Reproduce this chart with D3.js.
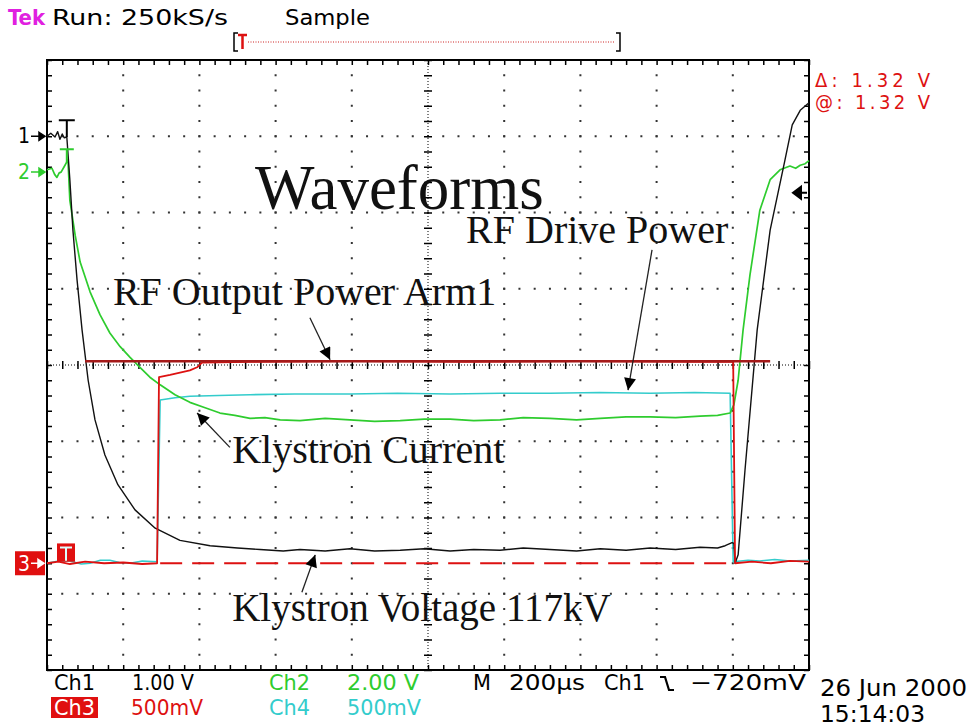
<!DOCTYPE html>
<html>
<head>
<meta charset="utf-8">
<script src="https://cdn.jsdelivr.net/npm/d3@7"></script>
<style>
body { margin: 0; background: #fff; }
svg { display: block; }
</style>
</head>
<body>
<div id="scope"></div>
<script>
var W = 971, H = 728;
var X_DIVS = 10, Y_DIVS = 8;
var US_PER_DIV = 200;

// time in µs from the left edge of the screen, level in screen divisions from the centre
var ch1Trace = [[0,3.00],[10,3.04],[21,2.99],[28,3.06],[34,2.96],[40,3.03],[45,2.98],[52,2.99],[60,2.43],[68,1.77],[79,1.11],[92,0.46],[108,-0.20],[126,-0.72],[152,-1.18],[186,-1.57],[231,-1.90],[284,-2.14],[349,-2.30],[428,-2.37],[500,-2.40],[559,-2.42],[620,-2.44],[664,-2.42],[730,-2.44],[795,-2.41],[860,-2.44],[927,-2.43],[990,-2.41],[1058,-2.44],[1120,-2.42],[1189,-2.43],[1250,-2.40],[1320,-2.42],[1390,-2.44],[1452,-2.41],[1520,-2.43],[1583,-2.40],[1650,-2.42],[1714,-2.39],[1760,-2.40],[1780,-2.37],[1798,-2.33],[1803,-2.34],[1806,-2.60],[1814,-2.49],[1832,-1.38],[1864,0.46],[1898,1.77],[1937,2.69],[1956,3.15],[1977,3.34],[2000,3.44]];
var ch2Trace = [[0,2.56],[13,2.58],[20,2.50],[26,2.46],[32,2.52],[37,2.53],[45,2.60],[55,2.69],[60,2.16],[74,1.70],[87,1.35],[113,0.96],[139,0.66],[165,0.42],[192,0.24],[218,0.10],[244,-0.03],[270,-0.16],[297,-0.26],[336,-0.39],[375,-0.49],[415,-0.56],[454,-0.63],[493,-0.66],[533,-0.70],[572,-0.69],[612,-0.72],[664,-0.73],[730,-0.70],[795,-0.72],[860,-0.74],[927,-0.73],[990,-0.71],[1058,-0.71],[1120,-0.73],[1189,-0.72],[1250,-0.69],[1320,-0.70],[1390,-0.72],[1452,-0.70],[1520,-0.68],[1583,-0.68],[1650,-0.69],[1714,-0.67],[1760,-0.66],[1793,-0.63],[1803,-0.52],[1814,-0.20],[1827,0.46],[1845,1.18],[1871,2.03],[1898,2.43],[1924,2.56],[1950,2.61],[1965,2.58],[1977,2.62],[1990,2.64],[2000,2.68]];
var ch3Trace = [[0,-2.60],[30,-2.58],[60,-2.61],[100,-2.58],[150,-2.60],[200,-2.59],[250,-2.61],[289,-2.60],[294,-0.16],[323,-0.13],[349,-0.10],[375,-0.07],[394,-0.03],[407,0.03],[533,0.04],[800,0.05],[1100,0.04],[1400,0.05],[1700,0.04],[1801,0.04],[1806,-2.60],[1850,-2.58],[1900,-2.60],[1950,-2.57],[2000,-2.58]];
var ch4Trace = [[0,-2.60],[30,-2.57],[60,-2.57],[90,-2.61],[113,-2.60],[140,-2.56],[165,-2.56],[190,-2.59],[218,-2.60],[250,-2.57],[289,-2.58],[297,-0.46],[336,-0.43],[375,-0.41],[450,-0.40],[533,-0.39],[650,-0.38],[795,-0.38],[920,-0.37],[1058,-0.38],[1190,-0.37],[1320,-0.37],[1450,-0.36],[1583,-0.37],[1700,-0.36],[1793,-0.37],[1801,-2.58],[1840,-2.56],[1871,-2.57],[1910,-2.55],[1950,-2.57],[2000,-2.56]];

var channelMarkers = [
	{ label: "1", level: 3.00, color: "#000" },
	{ label: "2", level: 2.53, color: "#2ecc2e" }
];

// hand-drawn annotations, same units as the traces
var annotationTexts = [
	{ text: "Waveforms", t: 546, v: 2.05, size: 63 },
	{ text: "RF Drive Power", t: 1100, v: 1.60, size: 40 },
	{ text: "RF Output Power Arm1", t: 173, v: 0.79, size: 40 },
	{ text: "Klystron Current", t: 486, v: -1.29, size: 40 },
	{ text: "Klystron Voltage 117kV", t: 486, v: -3.36, size: 39 }
];
var annotationArrows = [
	[[690, 0.62], [743, 0.07]],
	[[1588, 1.51], [1525, -0.33]],
	[[480, -1.08], [394, -0.63]],
	[[669, -2.98], [704, -2.49]]
];
var outputRefLine = [[100, 0.05], [1898, 0.05]];
var ch3ZeroLine = [[297, -2.60], [1806, -2.60]];

var headerTexts = [
	{ text: "Tek", x: 8, w: 37, color: "#e020e0", bold: true },
	{ text: "Run: 250kS/s", x: 52, w: 176, color: "#000", bold: false },
	{ text: "Sample", x: 285, w: 85, color: "#000", bold: false }
];
var readoutTexts = ["\u0394: 1.32 V", "@: 1.32 V"];
var bottomRow1 = [
	{ text: "Ch1", x: 54, w: 41, color: "#000" },
	{ text: "1.00 V", x: 132, w: 62, color: "#000" },
	{ text: "Ch2", x: 269, w: 41, color: "#2ecc2e" },
	{ text: "2.00 V", x: 347, w: 72, color: "#2ecc2e" },
	{ text: "M", x: 473, w: 18, color: "#000" },
	{ text: "200\u00b5s", x: 509, w: 76, color: "#000" },
	{ text: "Ch1", x: 604, w: 41, color: "#000" },
	{ text: "\u2212720mV", x: 690, w: 116, color: "#000" }
];
var bottomRow2 = [
	{ text: "500mV", x: 131, w: 72, color: "#dd1111" },
	{ text: "Ch4", x: 269, w: 41, color: "#33cccc" },
	{ text: "500mV", x: 347, w: 74, color: "#33cccc" }
];

var boxLeft = 47, boxRight = 809, boxTop = 60, boxBottom = 670;

var x = d3.scaleLinear().domain([0, X_DIVS * US_PER_DIV]).range([boxLeft, boxRight]);
var y = d3.scaleLinear().domain([-Y_DIVS / 2, Y_DIVS / 2]).range([boxBottom, boxTop]);

var svg = d3.select("#scope").append("svg")
	.attr("width", W)
	.attr("height", H);

var defs = svg.append("defs");
defs.append("marker")
	.attr("id", "head")
	.attr("viewBox", "0 0 10 10")
	.attr("refX", 10).attr("refY", 5)
	.attr("markerWidth", 16).attr("markerHeight", 12)
	.attr("markerUnits", "userSpaceOnUse")
	.attr("orient", "auto")
	.append("path").attr("d", "M0,0 L10,5 L0,10 Z").attr("fill", "#000");

var mono = "'DejaVu Sans Condensed', 'DejaVu Sans', sans-serif";

// header
svg.selectAll(".hdr").data(headerTexts).enter().append("text")
	.attr("x", function (d) { return d.x; }).attr("y", 25)
	.attr("textLength", function (d) { return d.w; })
	.attr("lengthAdjust", "spacingAndGlyphs")
	.attr("fill", function (d) { return d.color; })
	.style("font-family", mono).style("font-size", "22px")
	.style("font-weight", function (d) { return d.bold ? "bold" : "normal"; })
	.text(function (d) { return d.text; });

// record bar
svg.append("path").attr("d", "M238,33 H234 V51 H238").attr("fill", "none").attr("stroke", "#000").attr("stroke-width", 1.5);
svg.append("path").attr("d", "M616,33 H620 V51 H616").attr("fill", "none").attr("stroke", "#000").attr("stroke-width", 1.5);
svg.append("line").attr("x1", 248).attr("x2", 614).attr("y1", 42).attr("y2", 42)
	.attr("stroke", "#cc2222").attr("stroke-width", 1).attr("stroke-dasharray", "1,1.5");
svg.append("path").attr("d", "M238,35 H247 M242.5,35 V49").attr("stroke", "#dd1111").attr("stroke-width", 2.5).attr("fill", "none");

// grid dots along major lines
var grid = svg.append("g");
var minorT = d3.range(0, X_DIVS * US_PER_DIV + 1, US_PER_DIV / 5);
var minorV = d3.range(-Y_DIVS / 2, Y_DIVS / 2 + 0.01, 0.2);
d3.range(1, X_DIVS).forEach(function (k) {
	if (k === X_DIVS / 2) return;
	grid.selectAll(null).data(minorV).enter().append("rect")
		.attr("x", x(k * US_PER_DIV) - 1).attr("y", function (d) { return y(d) - 1; })
		.attr("width", 2).attr("height", 2).attr("fill", "#333");
});
d3.range(-Y_DIVS / 2 + 1, Y_DIVS / 2).forEach(function (k) {
	if (k === 0) return;
	grid.selectAll(null).data(minorT).enter().append("rect")
		.attr("x", function (d) { return x(d) - 1; }).attr("y", y(k) - 1)
		.attr("width", 2).attr("height", 2).attr("fill", "#333");
});

// centre crosshair and border ticks through d3 axes
function tickAxis(axis, transform) {
	var g = svg.append("g").attr("transform", transform).call(axis);
	g.select(".domain").remove();
	g.selectAll("text").remove();
	g.selectAll("line").attr("stroke", "#000").attr("stroke-width", 1.5);
	return g;
}
tickAxis(d3.axisBottom(x).tickValues(minorT).tickSize(-5).tickFormat(""), "translate(0," + boxBottom + ")");
tickAxis(d3.axisTop(x).tickValues(minorT).tickSize(-5).tickFormat(""), "translate(0," + boxTop + ")");
tickAxis(d3.axisLeft(y).tickValues(minorV).tickSize(-5).tickFormat(""), "translate(" + boxLeft + ",0)");
tickAxis(d3.axisRight(y).tickValues(minorV).tickSize(-5).tickFormat(""), "translate(" + boxRight + ",0)");
tickAxis(d3.axisBottom(x).tickValues(minorT).tickSize(4).tickFormat(""), "translate(0," + y(0) + ")");
tickAxis(d3.axisTop(x).tickValues(minorT).tickSize(4).tickFormat(""), "translate(0," + y(0) + ")");
tickAxis(d3.axisLeft(y).tickValues(minorV).tickSize(4).tickFormat(""), "translate(" + x(1000) + ",0)");
tickAxis(d3.axisRight(y).tickValues(minorV).tickSize(4).tickFormat(""), "translate(" + x(1000) + ",0)");
svg.append("line").attr("x1", boxLeft).attr("x2", boxRight).attr("y1", y(0)).attr("y2", y(0))
	.attr("stroke", "#000").attr("stroke-width", 1).attr("stroke-dasharray", "1,2");
svg.append("line").attr("x1", x(1000)).attr("x2", x(1000)).attr("y1", boxTop).attr("y2", boxBottom)
	.attr("stroke", "#000").attr("stroke-width", 1).attr("stroke-dasharray", "1,2");

svg.append("rect").attr("x", boxLeft).attr("y", boxTop).attr("width", boxRight - boxLeft).attr("height", boxBottom - boxTop)
	.attr("fill", "none").attr("stroke", "#000").attr("stroke-width", 2);

// traces
var line = d3.line().x(function (d) { return x(d[0]); }).y(function (d) { return y(d[1]); });
var traces = svg.append("g").attr("fill", "none").attr("stroke-linejoin", "round");
traces.append("path").attr("d", line(ch4Trace)).attr("stroke", "#33cccc").attr("stroke-width", 1.6);
traces.append("path").attr("d", line(ch2Trace)).attr("stroke", "#2ecc2e").attr("stroke-width", 1.7);
traces.append("path").attr("d", line(ch1Trace)).attr("stroke", "#111").attr("stroke-width", 1.4);
traces.append("path").attr("d", line(ch3Trace)).attr("stroke", "#dd1111").attr("stroke-width", 1.8);

svg.append("path").attr("d", line(ch3ZeroLine)).attr("stroke", "#dd1111").attr("stroke-width", 2)
	.attr("stroke-dasharray", "22,10").attr("fill", "none");
svg.append("path").attr("d", line(outputRefLine)).attr("stroke", "#a51a1a").attr("stroke-width", 2.4).attr("fill", "none");

// trigger markers on the traces
svg.append("path").attr("d", "M" + (x(52) - 8) + "," + y(3.21) + " H" + (x(52) + 8) + " M" + x(52) + "," + y(3.21) + " V" + y(2.99))
	.attr("stroke", "#000").attr("stroke-width", 2).attr("fill", "none");
svg.append("path").attr("d", "M" + (x(52) - 7) + "," + y(2.83) + " H" + (x(52) + 7) + " M" + x(52) + "," + y(2.83) + " V" + y(2.66))
	.attr("stroke", "#2ecc2e").attr("stroke-width", 2).attr("fill", "none");
svg.append("rect").attr("x", 57).attr("y", y(-2.34)).attr("width", 18).attr("height", y(-2.58) - y(-2.34)).attr("fill", "#e01010");
svg.append("path").attr("d", "M60," + (y(-2.34) + 4) + " H72 M66," + (y(-2.34) + 4) + " V" + (y(-2.58) - 1))
	.attr("stroke", "#dff").attr("stroke-width", 2).attr("fill", "none");

// channel ground markers
channelMarkers.forEach(function (m) {
	svg.append("text").attr("x", 18).attr("y", y(m.level) + 7).attr("fill", m.color)
		.style("font-family", mono).style("font-size", "21px").text(m.label);
	svg.append("path").attr("d", "M31," + y(m.level) + " H39 M39," + (y(m.level) - 4) + " L45," + y(m.level) + " L39," + (y(m.level) + 4) + " Z")
		.attr("stroke", m.color).attr("fill", m.color).attr("stroke-width", 1.5);
});
svg.append("rect").attr("x", 15).attr("y", y(-2.60) - 12).attr("width", 30).attr("height", 24).attr("fill", "#e01010");
svg.append("text").attr("x", 18).attr("y", y(-2.60) + 8).attr("fill", "#fff")
	.style("font-family", mono).style("font-size", "21px").text("3");
svg.append("path").attr("d", "M31," + y(-2.60) + " H38 M38," + (y(-2.60) - 4) + " L44," + y(-2.60) + " L38," + (y(-2.60) + 4) + " Z")
	.attr("stroke", "#fff").attr("fill", "#fff").attr("stroke-width", 1.5);

// trigger level arrow at right edge
var trigY = y(2.26);
svg.append("path").attr("d", "M793," + trigY + " L801," + (trigY - 6) + " L801," + (trigY + 6) + " Z M800," + trigY + " H807")
	.attr("fill", "#000").attr("stroke", "#000").attr("stroke-width", 2);

// annotations
svg.selectAll(".note").data(annotationTexts).enter().append("text")
	.attr("class", "note")
	.attr("x", function (d) { return x(d.t); })
	.attr("y", function (d) { return y(d.v); })
	.style("font-family", "'Liberation Serif', 'Times New Roman', serif")
	.style("font-size", function (d) { return d.size + "px"; })
	.attr("fill", "#111")
	.text(function (d) { return d.text; });
svg.selectAll(".arrow").data(annotationArrows).enter().append("path")
	.attr("class", "arrow")
	.attr("d", function (d) { return line(d); })
	.attr("stroke", "#222").attr("stroke-width", 1.3).attr("fill", "none")
	.attr("marker-end", "url(#head)");

// readouts
svg.selectAll(".readout").data(readoutTexts).enter().append("text")
	.attr("class", "readout")
	.attr("x", 815).attr("y", function (d, i) { return 87 + i * 22; })
	.attr("textLength", 115)
	.attr("fill", "#dd1111")
	.style("font-family", mono).style("font-size", "20px")
	.text(function (d) { return d; });

// bottom status lines
var statusBar = svg.append("g").style("font-family", mono).style("font-size", "22px");
statusBar.selectAll(".r1").data(bottomRow1).enter().append("text")
	.attr("x", function (d) { return d.x; }).attr("y", 690)
	.attr("textLength", function (d) { return d.w; })
	.attr("lengthAdjust", "spacingAndGlyphs")
	.attr("fill", function (d) { return d.color; })
	.text(function (d) { return d.text; });
statusBar.append("path").attr("d", "M660,677 H665 L669,690 H674").attr("stroke", "#000").attr("stroke-width", 2.2).attr("fill", "none");
statusBar.append("rect").attr("x", 51).attr("y", 697).attr("width", 47).attr("height", 21).attr("fill", "#e01010");
statusBar.append("text").attr("x", 54).attr("y", 715).attr("fill", "#fff")
	.attr("textLength", 41).attr("lengthAdjust", "spacingAndGlyphs").text("Ch3");
statusBar.selectAll(".r2").data(bottomRow2).enter().append("text")
	.attr("x", function (d) { return d.x; }).attr("y", 715)
	.attr("textLength", function (d) { return d.w; })
	.attr("lengthAdjust", "spacingAndGlyphs")
	.attr("fill", function (d) { return d.color; })
	.text(function (d) { return d.text; });
statusBar.append("text").attr("x", 820).attr("y", 696).style("font-size", "23px")
	.attr("textLength", 147).attr("lengthAdjust", "spacingAndGlyphs").text("26 Jun 2000");
statusBar.append("text").attr("x", 820).attr("y", 722).style("font-size", "23px")
	.attr("textLength", 105).attr("lengthAdjust", "spacingAndGlyphs").text("15:14:03");
</script>
</body>
</html>
